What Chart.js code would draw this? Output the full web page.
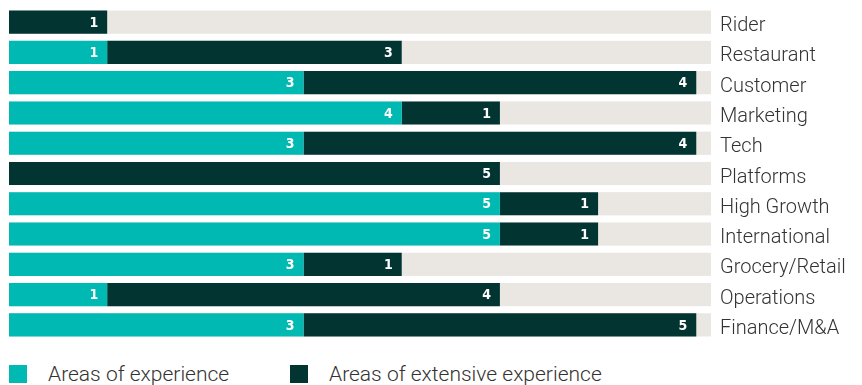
<!DOCTYPE html>
<html>
<head>
<meta charset="utf-8">
<script src="https://cdn.jsdelivr.net/npm/chart.js@4.4.1/dist/chart.umd.min.js"></script>
<style>
    body { margin: 0; background: #fff; font-family: Roboto, sans-serif; }
    #wrap { position: relative; width: 862px; height: 385px; }
    #chart { position: absolute; left: 0; top: 0; }
    .legend { position: absolute; top: 364px; height: 20px; display: flex; align-items: center;
              font-family: Roboto, sans-serif; font-weight: 300; font-size: 21px; color: #333; }
    .legend span.box { display: inline-block; width: 18px; height: 18px; margin-right: 21px; }
</style>
</head>
<body>
<div id="wrap">
    <canvas id="chart" width="862" height="340"></canvas>
    <div class="legend" id="lg0" style="left:9px"><span class="box"></span><span class="txt"></span></div>
    <div class="legend" id="lg1" style="left:290px"><span class="box"></span><span class="txt"></span></div>
</div>
<script>

const categories = ["Rider", "Restaurant", "Customer", "Marketing", "Tech", "Platforms",
    "High Growth", "International", "Grocery/Retail", "Operations", "Finance/M&A"];

const experience = [0, 1, 3, 4, 3, 0, 5, 5, 3, 1, 3];
const extensive  = [1, 3, 4, 1, 4, 5, 1, 1, 1, 4, 5];

const seriesNames  = ["Areas of experience", "Areas of extensive experience"];
const seriesColors = ["#00B9B2", "#023532"];
const trackColor   = "#EAE6E1";

// bars never run past 7 units (Finance/M&A label says 5 but the bar stops at 7)
const barCap = 7;
const axisMax = 7.15;

const extensiveDrawn = extensive.map((v, i) => Math.min(v, barCap - experience[i]));

// grey track behind each row
const trackPlugin = {
    id: 'track',
    beforeDatasetsDraw(chart){
        const ctx = chart.ctx;
        const area = chart.chartArea;
        const meta = chart.getDatasetMeta(0);
        ctx.save();
        ctx.fillStyle = trackColor;
        meta.data.forEach(bar => {
            ctx.fillRect(area.left, bar.y - bar.height / 2, area.right - area.left, bar.height);
        });
        ctx.restore();
    }
};

// white numbers at the end of each segment
const valuePlugin = {
    id: 'values',
    afterDatasetsDraw(chart){
        const ctx = chart.ctx;
        ctx.save();
        ctx.fillStyle = "#fff";
        ctx.font = "bold 14px 'Liberation Sans Narrow', 'DejaVu Sans Condensed', sans-serif";
        ctx.textAlign = "right";
        ctx.textBaseline = "middle";
        const labels = [experience, extensive];
        chart.data.datasets.forEach((ds, di) => {
            chart.getDatasetMeta(di).data.forEach((bar, i) => {
                const v = labels[di][i];
                if (!v) return;
                ctx.fillText(String(v), bar.x - 9, bar.y + 1);
            });
        });
        ctx.restore();
    }
};

new Chart(document.getElementById("chart"), {
    type: 'bar',
    data: {
        labels: categories,
        datasets: [{
            label: seriesNames[0],
            data: experience,
            backgroundColor: seriesColors[0],
            categoryPercentage: 1,
            barPercentage: 0.765
        }, {
            label: seriesNames[1],
            data: extensiveDrawn,
            backgroundColor: seriesColors[1],
            categoryPercentage: 1,
            barPercentage: 0.765
        }]
    },
    options: {
        indexAxis: 'y',
        responsive: false,
        animation: false,
        layout: { padding: { top: 7, left: 9, bottom: 0, right: 0 } },
        plugins: {
            legend: { display: false },
            tooltip: { enabled: false }
        },
        scales: {
            x: {
                stacked: true,
                min: 0,
                max: axisMax,
                display: false
            },
            y: {
                stacked: true,
                position: 'right',
                grid: { display: false, drawTicks: false },
                border: { display: false },
                afterFit(scale){
                    scale.width = 151;
                    scale.paddingTop = 0;
                    scale.paddingBottom = 0;
                },
                ticks: {
                    padding: 9,
                    crossAlign: 'near',
                    labelOffset: 4,
                    color: "#333",
                    font: { family: "Roboto", weight: 300, size: 20 }
                }
            }
        }
    },
    plugins: [trackPlugin, valuePlugin]
});

// legend
[0, 1].forEach(i => {
    const el = document.getElementById("lg" + i);
    el.querySelector(".box").style.background = seriesColors[i];
    el.querySelector(".txt").textContent = seriesNames[i];
});

</script>
</body>
</html>
